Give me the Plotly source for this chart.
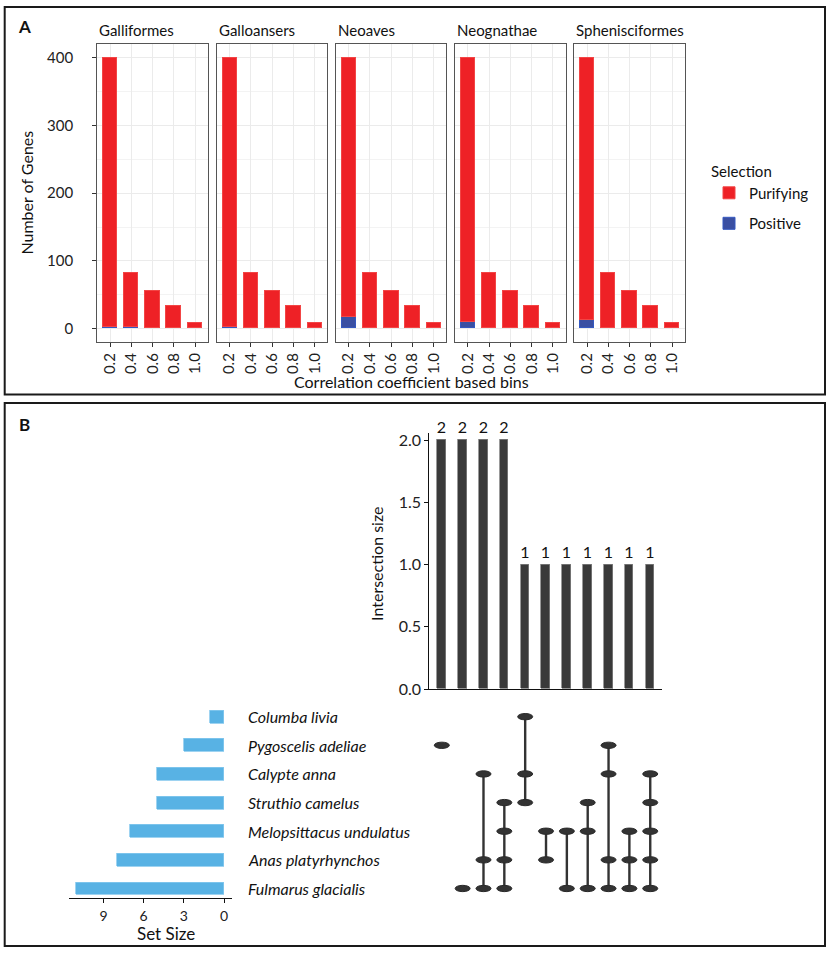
import plotly.graph_objects as go

# ---------------- data ----------------
bins = ["0.2", "0.4", "0.6", "0.8", "1.0"]
clades = ["Galliformes", "Galloansers", "Neoaves", "Neognathae", "Sphenisciformes"]
purifying = [
    [399, 79, 54, 33, 8],
    [399, 81, 54, 33, 8],
    [384, 81, 54, 33, 8],
    [391, 81, 54, 33, 8],
    [388, 81, 54, 33, 8],
]
positive = [
    [1, 2, 0, 0, 0],
    [1, 0, 0, 0, 0],
    [16, 0, 0, 0, 0],
    [9, 0, 0, 0, 0],
    [12, 0, 0, 0, 0],
]

# UpSet data (sets listed bottom -> top)
sets = ["Fulmarus glacialis", "Anas platyrhynchos", "Melopsittacus undulatus",
        "Struthio camelus", "Calypte anna", "Pygoscelis adeliae", "Columba livia"]
set_sizes = [11, 8, 7, 5, 5, 3, 1]
intersections = [
    ["Pygoscelis adeliae"],
    ["Fulmarus glacialis"],
    ["Calypte anna", "Anas platyrhynchos", "Fulmarus glacialis"],
    ["Struthio camelus", "Melopsittacus undulatus", "Anas platyrhynchos", "Fulmarus glacialis"],
    ["Columba livia", "Calypte anna", "Struthio camelus"],
    ["Melopsittacus undulatus", "Anas platyrhynchos"],
    ["Melopsittacus undulatus", "Fulmarus glacialis"],
    ["Struthio camelus", "Melopsittacus undulatus", "Fulmarus glacialis"],
    ["Pygoscelis adeliae", "Calypte anna", "Anas platyrhynchos", "Fulmarus glacialis"],
    ["Melopsittacus undulatus", "Anas platyrhynchos", "Fulmarus glacialis"],
    ["Calypte anna", "Struthio camelus", "Melopsittacus undulatus", "Anas platyrhynchos", "Fulmarus glacialis"],
]
inter_sizes = [2, 2, 2, 2, 1, 1, 1, 1, 1, 1, 1]

# ---------------- styling ----------------
W, H = 829, 960
FONT = "Lato"
RED, RED_EDGE = "#EE2126", "#F24545"
BLUE, BLUE_EDGE = "#3A4FA2", "#3558C0"
DARK = "#3A3A3A"
SKY = "#58B2E4"


def fx(px):
    return px / W


def fy(py):
    return 1 - py / H


def label(text, x, y, size=16, angle=0, xanchor="center", yanchor="middle"):
    return dict(text=text, x=fx(x), y=fy(y), xref="paper", yref="paper",
                xanchor=xanchor, yanchor=yanchor, textangle=angle, showarrow=False,
                font=dict(size=size, color="#111"))


fig = go.Figure()
layout = dict(
    width=W, height=H,
    margin=dict(l=0, r=0, t=0, b=0),
    paper_bgcolor="white", plot_bgcolor="white",
    font=dict(family=FONT, size=14, color="#1a1a1a"),
    barmode="stack", bargap=0,
    showlegend=True,
)

# ---------------- panel A : facets ----------------
facet_left = [97.3, 216.7, 335.7, 455.0, 574.3]
facet_w = 110.7
pa_top, pa_bot = 42.0, 343.3
annotations = []
for k, clade in enumerate(clades):
    sx = "" if k == 0 else str(k + 1)
    fig.add_trace(go.Bar(
        x=bins, y=positive[k], name="Positive", width=0.68,
        marker=dict(color=BLUE, line=dict(color=BLUE_EDGE, width=1)),
        xaxis="x" + sx, yaxis="y" + sx, showlegend=(k == 0),
        legendgroup="pos", legendrank=2,
    ))
    fig.add_trace(go.Bar(
        x=bins, y=purifying[k], name="Purifying", width=0.68,
        marker=dict(color=RED, line=dict(color=RED_EDGE, width=1)),
        xaxis="x" + sx, yaxis="y" + sx, showlegend=(k == 0),
        legendgroup="pur", legendrank=1,
    ))
    layout["xaxis" + sx] = dict(
        domain=[fx(facet_left[k]), fx(facet_left[k] + facet_w)],
        anchor="y" + sx, type="category", categoryorder="array", categoryarray=bins,
        range=[-0.6, 4.6], tickangle=-90, ticks="outside", ticklen=4,
        tickcolor="#333", tickfont=dict(size=15, color="#222"),
        showgrid=True, gridcolor="#EBEBEB", gridwidth=1.1,
        showline=True, linecolor="#555", linewidth=1.3, mirror=True,
        zeroline=False, fixedrange=True,
    )
    layout["yaxis" + sx] = dict(
        domain=[fy(pa_bot), fy(pa_top)], anchor="x" + sx,
        range=[-20, 420], tickvals=[0, 100, 200, 300, 400],
        showticklabels=(k == 0), ticks="outside" if k == 0 else "", ticklen=4,
        tickcolor="#333", tickfont=dict(size=15, color="#222"), ticklabelstandoff=16,
        showgrid=True, gridcolor="#EBEBEB", gridwidth=1.1,
        minor=dict(tickvals=[50, 150, 250, 350], showgrid=True, gridcolor="#F3F3F3", gridwidth=0.6),
        showline=True, linecolor="#555", linewidth=1.3, mirror=True,
        zeroline=False,
    )
    annotations.append(label(clade, facet_left[k], 27, size=15, xanchor="left"))

annotations += [
    label("Number of Genes", 27, 192, size=16, angle=-90),
    label("Correlation coefficient based bins", 411, 383, size=16),
    label("<b>A</b>", 24, 24, size=17),
    label("<b>B</b>", 24, 427, size=17),
]

layout["legend"] = dict(
    x=fx(709), y=fy(156), xanchor="left", yanchor="top",
    title=dict(text="Selection", font=dict(size=15, color="#111")),
    font=dict(size=15, color="#111"), tracegroupgap=8, itemwidth=30,
    bgcolor="rgba(0,0,0,0)",
)

# ---------------- panel B : UpSet ----------------
cols = list(range(len(inter_sizes)))
bx_l, bx_r = 429.3, 661.7
by_top, by_bot = 435.0, 694.7
fig.add_trace(go.Bar(
    x=cols, y=inter_sizes, width=0.42, showlegend=False,
    marker=dict(color=DARK, line=dict(color="#808080", width=0.8)),
    text=[str(v) for v in inter_sizes], textposition="outside", constraintext="none",
    textfont=dict(size=16, color="#111"), cliponaxis=False,
    xaxis="x6", yaxis="y6",
))
layout["xaxis6"] = dict(
    domain=[fx(bx_l), fx(bx_r)], anchor="y6", range=[-0.6, 10.55],
    showticklabels=False, ticks="", showgrid=False, zeroline=False,
    showline=True, linecolor="#111", linewidth=1.2,
)
layout["yaxis6"] = dict(
    domain=[fy(by_bot), fy(by_top)], anchor="x6", range=[0, 2.06],
    tickvals=[0, 0.5, 1.0, 1.5, 2.0], tickformat=".1f", ticks="outside", ticklen=4,
    tickcolor="#111", tickfont=dict(size=16, color="#222"),
    showgrid=False, zeroline=False, showline=True, linecolor="#111", linewidth=1.2,
)
annotations.append(label("Intersection size", 377, 568, size=16, angle=-90))

# matrix
m_top, m_bot = 705.3, 906.7
row_range = [-0.345, 6.6]
layout["xaxis7"] = dict(
    domain=[fx(bx_l), fx(bx_r)], anchor="y7", range=[-0.6, 10.55],
    visible=False, showgrid=False, zeroline=False,
)
layout["yaxis7"] = dict(
    domain=[fy(m_bot), fy(m_top)], anchor="x7", type="category",
    categoryorder="array", categoryarray=sets, range=row_range,
    visible=False, showgrid=False, zeroline=False,
)
shapes = []
for i, members in enumerate(intersections):
    rows = sorted(sets.index(m) for m in members)
    if len(rows) > 1:
        fig.add_trace(go.Scatter(
            x=[i, i], y=[sets[rows[0]], sets[rows[-1]]], mode="lines",
            line=dict(color="#333", width=2.4), showlegend=False, hoverinfo="skip",
            xaxis="x7", yaxis="y7",
        ))
    else:
        fig.add_trace(go.Scatter(
            x=[i], y=[sets[rows[0]]], mode="markers", marker=dict(size=1, color="#333"),
            showlegend=False, hoverinfo="skip", xaxis="x7", yaxis="y7",
        ))
    for r in rows:
        shapes.append(dict(
            type="circle", xref="x7", yref="y7",
            x0=i - 0.36, x1=i + 0.36, y0=r - 0.11, y1=r + 0.11,
            fillcolor="#333", line=dict(color="#2a2a2a", width=1), layer="above",
        ))

# set size bars
fig.add_trace(go.Bar(
    x=set_sizes, y=sets, orientation="h", width=0.45, showlegend=False,
    marker=dict(color=SKY, line=dict(color="#86C8EE", width=0.8)),
    xaxis="x8", yaxis="y8",
))
layout["xaxis8"] = dict(
    domain=[fx(69.3), fx(231.7)], anchor="y8", range=[11.55, -0.57],
    tickvals=[0, 3, 6, 9], ticks="outside", ticklen=4, tickcolor="#111",
    tickfont=dict(size=14, color="#222"), ticklabelstandoff=1,
    showgrid=False, zeroline=False,
    showline=True, linecolor="#111", linewidth=1.2,
)
layout["yaxis8"] = dict(
    domain=[fy(m_bot), fy(m_top)], anchor="x8", type="category",
    categoryorder="array", categoryarray=sets, range=row_range,
    visible=False, showgrid=False, zeroline=False,
)
annotations.append(label("Set Size", 166, 942, size=17))
for name in sets:
    annotations.append(dict(
        text="<i>" + name + "</i>", x=fx(246), y=name, xref="paper", yref="y8",
        xanchor="left", yanchor="middle", showarrow=False, font=dict(size=16, color="#111"),
    ))

# panel frames
shapes += [
    dict(type="rect", xref="paper", yref="paper", x0=fx(4.7), x1=fx(825), y0=fy(396.5), y1=fy(4),
         line=dict(color="#1a1a1a", width=2), layer="below"),
    dict(type="rect", xref="paper", yref="paper", x0=fx(4.7), x1=fx(825), y0=fy(955), y1=fy(405),
         line=dict(color="#1a1a1a", width=2), layer="below"),
]

layout["annotations"] = annotations
layout["shapes"] = shapes
fig.update_layout(**layout)
fig.write_html("out.html", config={"displayModeBar": False},
               post_script="document.body.style.margin='0';")
